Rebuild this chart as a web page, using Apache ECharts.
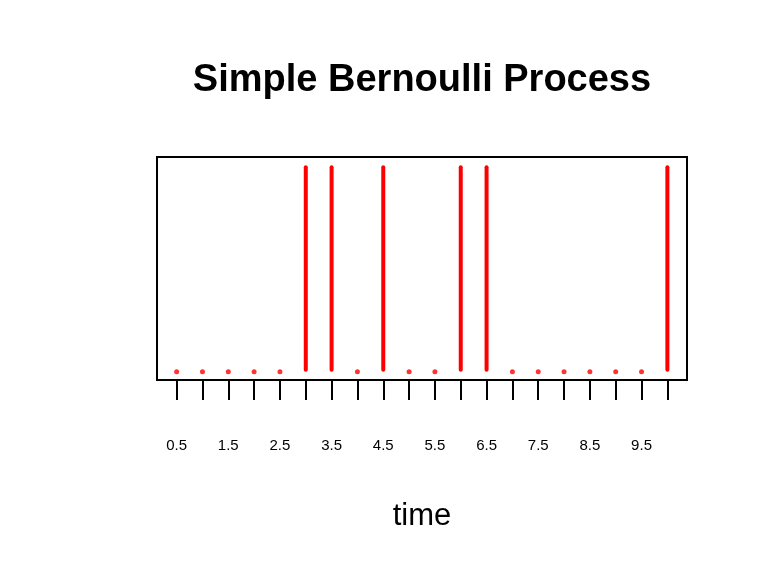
<!DOCTYPE html>
<html>
<head>
<meta charset="utf-8">
<script src="https://cdn.jsdelivr.net/npm/echarts@6/dist/echarts.min.js"></script>
<style>html,body{margin:0;padding:0;background:#fff}#c{width:768px;height:576px}</style>
</head>
<body>
<div id="c"></div>
<script>
const times = [0.5,1,1.5,2,2.5,3,3.5,4,4.5,5,5.5,6,6.5,7,7.5,8,8.5,9,9.5,10];
const outcomes = [0,0,0,0,0,1,1,0,1,0,0,1,1,0,0,0,0,0,0,1];
const tickValues = [0.5,1,1.5,2,2.5,3,3.5,4,4.5,5,5.5,6,6.5,7,7.5,8,8.5,9,9.5,10];
const labelValues = [0.5,1.5,2.5,3.5,4.5,5.5,6.5,7.5,8.5,9.5];
const titleText = 'Simple Bernoulli Process';
const xName = 'time';

const font = 'Liberation Sans, Arial, Helvetica, sans-serif';
const ones = [], zeros = [];
times.forEach((t, i) => { if (outcomes[i] === 1) ones.push([t, outcomes[i]]); else zeros.push([t, outcomes[i]]); });

const chart = echarts.init(document.getElementById('c'), null, {renderer: 'canvas'});
chart.setOption({
  animation: false,
  backgroundColor: '#ffffff',
  graphic: [{
    type: 'text', x: 422, y: 81,
    style: {text: titleText, font: 'bold 38px ' + font, fill: '#000', align: 'center', verticalAlign: 'middle'}
  }],
  grid: {left: 157, right: 81, top: 157, bottom: 196, show: true, borderColor: '#000', borderWidth: 2, backgroundColor: 'transparent'},
  xAxis: {
    type: 'value', min: 0.12, max: 10.38,
    axisLine: {show: true, onZero: false, lineStyle: {color: '#000', width: 2}},
    splitLine: {show: false},
    axisTick: {show: true, inside: false, length: 20, lineStyle: {color: '#000', width: 2}, customValues: tickValues},
    axisLabel: {show: true, margin: 58, fontSize: 15, color: '#000', fontFamily: font, customValues: labelValues, formatter: v => String(v)},
    name: xName, nameLocation: 'middle', nameGap: 121,
    nameTextStyle: {fontSize: 31, color: '#000', fontFamily: font}
  },
  yAxis: {type: 'value', min: -0.04, max: 1.04, show: false, splitLine: {show: false}},
  series: [
    {type: 'bar', data: ones, barWidth: 4, itemStyle: {color: '#ff0000', borderRadius: 2}},
    {type: 'scatter', data: zeros, symbol: 'circle', symbolSize: 5, itemStyle: {color: '#ff0000'}}
  ]
});
</script>
</body>
</html>
